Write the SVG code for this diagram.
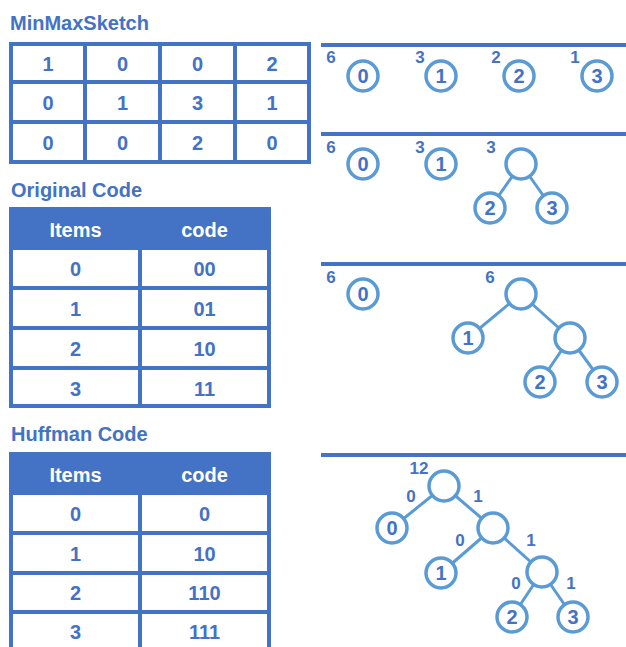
<svg xmlns="http://www.w3.org/2000/svg" width="626" height="647" viewBox="0 0 626 647">
  <style>
    text { font-family: "Liberation Sans", Arial, sans-serif; font-weight: bold; fill: #4472C4; }
    .title { font-size: 20px; }
    .cell { font-size: 20px; text-anchor: middle; }
    .head { font-size: 20px; text-anchor: middle; fill: #ffffff; }
    .blue { fill: #4472C4; }
    .white { fill: #ffffff; }
    .node { fill: #ffffff; stroke: #5B9BD5; stroke-width: 3.5; }
    .digit { font-size: 20px; text-anchor: middle; }
    .w { font-size: 17px; text-anchor: middle; }
    .edge { stroke: #5B9BD5; stroke-width: 3; fill: none; }
  </style>

  <!-- MinMaxSketch table -->
  <g id="minmax">
    <text class="title" x="10" y="30">MinMaxSketch</text>
    <rect class="blue" x="9" y="42" width="302" height="122"/>
    <g class="white">
      <rect x="13" y="46" width="70" height="34"/><rect x="87" y="46" width="71" height="34"/><rect x="162" y="46" width="71" height="34"/><rect x="237" y="46" width="70" height="34"/>
      <rect x="13" y="84" width="70" height="36"/><rect x="87" y="84" width="71" height="36"/><rect x="162" y="84" width="71" height="36"/><rect x="237" y="84" width="70" height="36"/>
      <rect x="13" y="124" width="70" height="36"/><rect x="87" y="124" width="71" height="36"/><rect x="162" y="124" width="71" height="36"/><rect x="237" y="124" width="70" height="36"/>
    </g>
    <text class="cell" x="48" y="71">1</text><text class="cell" x="122.5" y="71">0</text><text class="cell" x="197.5" y="71">0</text><text class="cell" x="272" y="71">2</text>
    <text class="cell" x="48" y="110">0</text><text class="cell" x="122.5" y="110">1</text><text class="cell" x="197.5" y="110">3</text><text class="cell" x="272" y="110">1</text>
    <text class="cell" x="48" y="150">0</text><text class="cell" x="122.5" y="150">0</text><text class="cell" x="197.5" y="150">2</text><text class="cell" x="272" y="150">0</text>
  </g>

  <!-- Original code table -->
  <g id="original">
    <text class="title" x="11" y="197">Original Code</text>
    <rect class="blue" x="9" y="207" width="262" height="201"/>
    <g class="white">
      <rect x="13" y="250" width="125" height="36"/><rect x="142" y="250" width="125" height="36"/>
      <rect x="13" y="290" width="125" height="36"/><rect x="142" y="290" width="125" height="36"/>
      <rect x="13" y="330" width="125" height="36"/><rect x="142" y="330" width="125" height="36"/>
      <rect x="13" y="370" width="125" height="34"/><rect x="142" y="370" width="125" height="34"/>
    </g>
    <text class="head" x="75.5" y="237">Items</text><text class="head" x="204.5" y="237">code</text>
    <text class="cell" x="75.5" y="276">0</text><text class="cell" x="204.5" y="276">00</text>
    <text class="cell" x="75.5" y="316">1</text><text class="cell" x="204.5" y="316">01</text>
    <text class="cell" x="75.5" y="356">2</text><text class="cell" x="204.5" y="356">10</text>
    <text class="cell" x="75.5" y="396">3</text><text class="cell" x="204.5" y="396">11</text>
  </g>

  <!-- Huffman code table -->
  <g id="huffman">
    <text class="title" x="11" y="441">Huffman Code</text>
    <rect class="blue" x="9" y="452" width="262" height="200"/>
    <g class="white">
      <rect x="13" y="495" width="125" height="36"/><rect x="142" y="495" width="125" height="36"/>
      <rect x="13" y="535" width="125" height="36"/><rect x="142" y="535" width="125" height="36"/>
      <rect x="13" y="575" width="125" height="35"/><rect x="142" y="575" width="125" height="35"/>
      <rect x="13" y="614" width="125" height="40"/><rect x="142" y="614" width="125" height="40"/>
    </g>
    <text class="head" x="75.5" y="482">Items</text><text class="head" x="204.5" y="482">code</text>
    <text class="cell" x="75.5" y="521">0</text><text class="cell" x="204.5" y="521">0</text>
    <text class="cell" x="75.5" y="561">1</text><text class="cell" x="204.5" y="561">10</text>
    <text class="cell" x="75.5" y="600">2</text><text class="cell" x="204.5" y="600">110</text>
    <text class="cell" x="75.5" y="639">3</text><text class="cell" x="204.5" y="639">111</text>
  </g>

  <!-- separator bars -->
  <g id="bars" class="blue">
    <rect x="321" y="43" width="305" height="4"/>
    <rect x="321" y="132" width="305" height="4"/>
    <rect x="321" y="262" width="305" height="4"/>
    <rect x="321" y="453" width="305" height="4"/>
  </g>

  <!-- tree connectors -->
  <g id="connectors" class="edge">
    <line x1="521" y1="164" x2="490" y2="208"/>
    <line x1="521" y1="164" x2="552" y2="208"/>
    <line x1="521" y1="294" x2="468" y2="338"/>
    <line x1="521" y1="294" x2="570" y2="338"/>
    <line x1="570" y1="338" x2="540" y2="382"/>
    <line x1="570" y1="338" x2="602" y2="382"/>
    <line x1="444" y1="486" x2="392" y2="528"/>
    <line x1="444" y1="486" x2="493" y2="528"/>
    <line x1="493" y1="528" x2="441" y2="573"/>
    <line x1="493" y1="528" x2="542" y2="572"/>
    <line x1="542" y1="572" x2="512" y2="617"/>
    <line x1="542" y1="572" x2="573" y2="617"/>
  </g>

  <!-- step 1: four leaves -->
  <g id="s1-n0"><text class="w" x="331" y="63">6</text><circle class="node" cx="363" cy="76" r="15"/><text class="digit" x="363" y="83">0</text></g>
  <g id="s1-n1"><text class="w" x="420" y="63">3</text><circle class="node" cx="441" cy="76" r="15"/><text class="digit" x="441" y="83">1</text></g>
  <g id="s1-n2"><text class="w" x="496" y="63">2</text><circle class="node" cx="519" cy="76" r="15"/><text class="digit" x="519" y="83">2</text></g>
  <g id="s1-n3"><text class="w" x="575" y="63">1</text><circle class="node" cx="597" cy="76" r="15"/><text class="digit" x="597" y="83">3</text></g>

  <!-- step 2: merge 2 and 3 -->
  <g id="s2-n0"><text class="w" x="331" y="153">6</text><circle class="node" cx="363" cy="164" r="15"/><text class="digit" x="363" y="171">0</text></g>
  <g id="s2-n1"><text class="w" x="420" y="153">3</text><circle class="node" cx="441" cy="164" r="15"/><text class="digit" x="441" y="171">1</text></g>
  <g id="s2-p"><text class="w" x="491" y="153">3</text><circle class="node" cx="521" cy="164" r="15"/></g>
  <g id="s2-n2"><circle class="node" cx="490" cy="208" r="15"/><text class="digit" x="490" y="215">2</text></g>
  <g id="s2-n3"><circle class="node" cx="552" cy="208" r="15"/><text class="digit" x="552" y="215">3</text></g>

  <!-- step 3: merge 1 with subtree -->
  <g id="s3-n0"><text class="w" x="331" y="283">6</text><circle class="node" cx="363" cy="294" r="15"/><text class="digit" x="363" y="301">0</text></g>
  <g id="s3-p"><text class="w" x="490" y="283">6</text><circle class="node" cx="521" cy="294" r="15"/></g>
  <g id="s3-n1"><circle class="node" cx="468" cy="338" r="15"/><text class="digit" x="468" y="345">1</text></g>
  <g id="s3-q"><circle class="node" cx="570" cy="338" r="15"/></g>
  <g id="s3-n2"><circle class="node" cx="540" cy="382" r="15"/><text class="digit" x="540" y="389">2</text></g>
  <g id="s3-n3"><circle class="node" cx="602" cy="382" r="15"/><text class="digit" x="602" y="389">3</text></g>

  <!-- step 4: final Huffman tree -->
  <g id="s4-root"><text class="w" x="419" y="474">12</text><circle class="node" cx="444" cy="486" r="15"/></g>
  <g id="s4-n0"><circle class="node" cx="392" cy="528" r="15"/><text class="digit" x="392" y="535">0</text></g>
  <g id="s4-a"><circle class="node" cx="493" cy="528" r="15"/></g>
  <g id="s4-n1"><circle class="node" cx="441" cy="573" r="15"/><text class="digit" x="441" y="580">1</text></g>
  <g id="s4-b"><circle class="node" cx="542" cy="572" r="15"/></g>
  <g id="s4-n2"><circle class="node" cx="512" cy="617" r="15"/><text class="digit" x="512" y="624">2</text></g>
  <g id="s4-n3"><circle class="node" cx="573" cy="617" r="15"/><text class="digit" x="573" y="624">3</text></g>

  <!-- branch bit labels -->
  <g id="bits">
    <text class="w" x="411" y="502">0</text><text class="w" x="478" y="502">1</text>
    <text class="w" x="460" y="546">0</text><text class="w" x="531" y="546">1</text>
    <text class="w" x="516" y="589">0</text><text class="w" x="571" y="589">1</text>
  </g>
</svg>
